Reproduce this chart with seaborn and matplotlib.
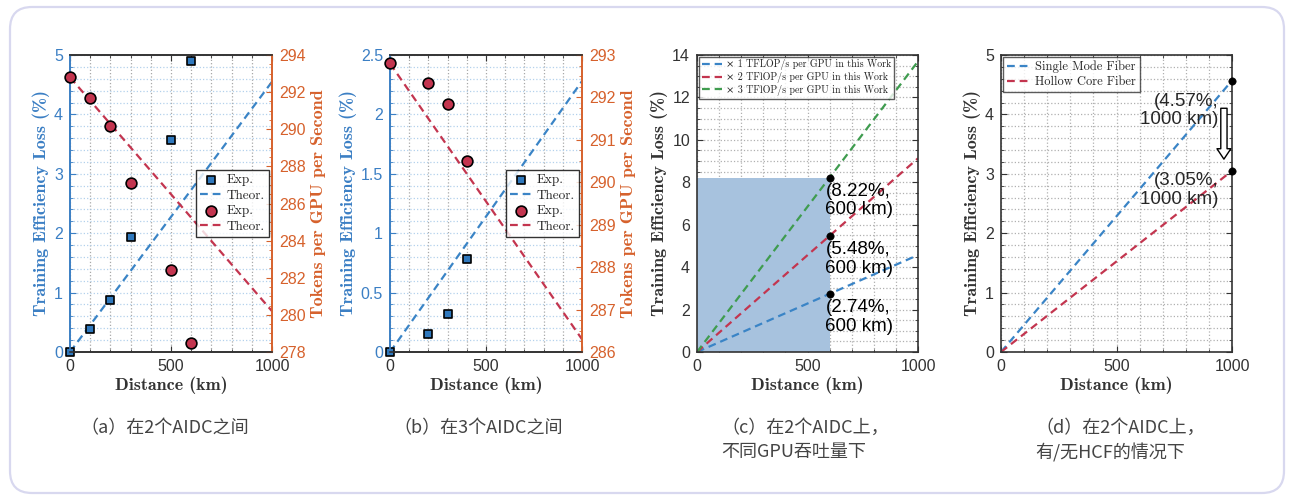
import matplotlib
matplotlib.use("Agg")
import matplotlib.pyplot as plt
import matplotlib.ticker as mticker
from matplotlib.patches import FancyBboxPatch
import pandas as pd
import seaborn as sns

sns.set_style("white")
plt.rcParams['font.family'] = ['Liberation Sans', 'DejaVu Sans']

# ---- data ----
theory_dist = [0, 1000]

# (a) two AIDCs
a_exp_dist = [0, 100, 200, 300, 500, 600]
a_exp_loss = [0.0, 0.38, 0.88, 1.94, 3.57, 4.90]
a_exp_tokens = [292.8, 291.7, 290.2, 287.1, 282.4, 278.5]
a_theo_loss = [0.0, 4.55]
a_theo_tokens = [292.8, 280.2]

# (b) three AIDCs
b_exp_dist = [0, 200, 300, 400]
b_exp_loss = [0.0, 0.15, 0.32, 0.78]
b_exp_tokens = [292.8, 292.35, 291.85, 290.5]
b_theo_loss = [0.0, 2.28]
b_theo_tokens = [292.8, 286.3]

# (c) GPU throughput scaling
c_labels = ['× 1 TFLOP/s per GPU in this Work',
            '× 2 TFlOP/s per GPU in this Work',
            '× 3 TFlOP/s per GPU in this Work']
c_loss_1000 = [4.57, 9.13, 13.70]
c_mark_dist = 600
c_mark_loss = [2.74, 5.48, 8.22]

# (d) fiber types
d_labels = ['Single Mode Fiber', 'Hollow Core Fiber']
d_loss_1000 = [4.57, 3.05]
d_mark_dist = 1000

captions = ['（a）在2个AIDC之间', '（b）在3个AIDC之间',
            '（c）在2个AIDC上，\n不同GPU吞吐量下', '（d）在2个AIDC上，\n有/无HCF的情况下']

BLUE = '#3a84c6'
SQ_BLUE = '#2f78bd'
RED = '#c3354f'
GREEN = '#3f9c4f'
ORANGE = '#d6612c'
AX_BLUE = '#3b7fc4'
DARK = '#333333'
DASH = (3.5, 2.2)

LABEL_FONT = dict(family='cmb10', size=13)
TICK_SIZE = 11.5

W, H = 1295, 499
fig = plt.figure(figsize=(W / 100, H / 100), dpi=100)

# rounded frame around everything
frame = FancyBboxPatch((0.1, 0.06), 12.74, 4.86, boxstyle="round,pad=0,rounding_size=0.22",
                       transform=fig.dpi_scale_trans, fc='white', ec='#d8d8ef', lw=1.6, zorder=-10)
fig.patches.append(frame)


def make_ax(left_px, right_px):
    top_px, bottom_px = 55, 352
    return fig.add_axes([left_px / W, (H - bottom_px) / H,
                         (right_px - left_px) / W, (bottom_px - top_px) / H])


def style_x(ax):
    ax.set_xlim(0, 1000)
    ax.xaxis.set_major_locator(mticker.MultipleLocator(500))
    ax.xaxis.set_minor_locator(mticker.MultipleLocator(100))
    ax.set_xlabel('Distance (km)', fontdict=LABEL_FONT, color=DARK, labelpad=2)
    ax.tick_params(axis='x', which='both', direction='in', top=True, bottom=True,
                   colors=DARK, labelsize=TICK_SIZE, pad=5)
    ax.tick_params(axis='x', which='major', length=4)
    ax.tick_params(axis='x', which='minor', length=2)


def dual_panel(ax, exp_dist, exp_loss, exp_tok, theo_loss, theo_tok,
               ylim, ymaj, ymin, y2lim, y2maj, y2min):
    ax.grid(which='both', axis='y', color='#b3d1ec', ls=':', lw=0.9)
    ax.grid(which='both', axis='x', color='#a8a8a8', ls=':', lw=0.9)
    sns.lineplot(x=theory_dist, y=theo_loss, ax=ax, color=BLUE, lw=1.6,
                 dashes=False, label='Theor.', zorder=2)
    ax.lines[-1].set_dashes(DASH)
    sns.scatterplot(x=exp_dist, y=exp_loss, ax=ax, marker='s', s=32, color=SQ_BLUE,
                    edgecolor='black', linewidth=1.2, label='Exp.', zorder=3, clip_on=False)
    ax.set_ylim(*ylim)
    ax.yaxis.set_major_locator(mticker.MultipleLocator(ymaj))
    ax.yaxis.set_minor_locator(mticker.MultipleLocator(ymin))
    ax.yaxis.set_major_formatter(mticker.FuncFormatter(lambda v, p: f'{v:g}'))
    ax.set_ylabel('Training Efficiency Loss (%)', fontdict=LABEL_FONT, color=AX_BLUE, labelpad=3)
    ax.tick_params(axis='y', which='both', direction='in', left=True, right=False,
                   colors=AX_BLUE, labelsize=TICK_SIZE, pad=5)
    ax.tick_params(axis='y', which='major', length=4)
    ax.tick_params(axis='y', which='minor', length=2)
    style_x(ax)

    ax2 = ax.twinx()
    sns.lineplot(x=theory_dist, y=theo_tok, ax=ax2, color=RED, lw=1.6,
                 dashes=False, label='Theor.', zorder=2)
    ax2.lines[-1].set_dashes(DASH)
    sns.scatterplot(x=exp_dist, y=exp_tok, ax=ax2, marker='o', s=60, color=RED,
                    edgecolor='black', linewidth=1.2, label='Exp.', zorder=3, clip_on=False)
    ax2.set_ylim(*y2lim)
    ax2.yaxis.set_major_locator(mticker.MultipleLocator(y2maj))
    ax2.yaxis.set_minor_locator(mticker.MultipleLocator(y2min))
    ax2.set_ylabel('Tokens per GPU per Second', fontdict=LABEL_FONT, color=ORANGE, labelpad=4)
    ax2.tick_params(axis='y', which='both', direction='in', colors=ORANGE,
                    labelsize=TICK_SIZE, pad=5)
    ax2.tick_params(axis='y', which='major', length=4)
    ax2.tick_params(axis='y', which='minor', length=2)

    for a in (ax, ax2):
        a.spines['left'].set_color(AX_BLUE)
        a.spines['right'].set_color(ORANGE)
        a.spines['top'].set_color(DARK)
        a.spines['bottom'].set_color(DARK)
        for s in a.spines.values():
            s.set_linewidth(1.2)

    h1, l1 = ax.get_legend_handles_labels()
    h2, l2 = ax2.get_legend_handles_labels()
    if ax.get_legend():
        ax.get_legend().remove()
    if ax2.get_legend():
        ax2.get_legend().remove()
    # order: Exp., Theor. (blue) then Exp., Theor. (red)
    handles = [h1[1], h1[0], h2[1], h2[0]]
    labels = [l1[1], l1[0], l2[1], l2[0]]
    leg = ax2.legend(handles, labels, loc='center right', prop=dict(family='cmr10', size=9.5),
                     frameon=True, fancybox=False, edgecolor='black', handlelength=1.6,
                     handletextpad=0.4, borderpad=0.3, labelspacing=0.25, borderaxespad=0.25)
    leg.get_frame().set_linewidth(1.0)
    return ax2


def single_panel(ax, ylim, ymaj, ymin):
    ax.grid(which='both', color='#b0b0b0', ls=':', lw=0.9)
    ax.set_ylim(*ylim)
    ax.yaxis.set_major_locator(mticker.MultipleLocator(ymaj))
    ax.yaxis.set_minor_locator(mticker.MultipleLocator(ymin))
    ax.set_ylabel('Training Efficiency Loss (%)', fontdict=LABEL_FONT, color=DARK, labelpad=3)
    ax.tick_params(axis='y', which='both', direction='in', left=True, right=True,
                   colors=DARK, labelsize=TICK_SIZE, pad=5)
    ax.tick_params(axis='y', which='major', length=4)
    ax.tick_params(axis='y', which='minor', length=2)
    style_x(ax)
    for s in ax.spines.values():
        s.set_color(DARK)
        s.set_linewidth(1.2)


# (a)
ax_a = make_ax(70, 272)
dual_panel(ax_a, a_exp_dist, a_exp_loss, a_exp_tokens, a_theo_loss, a_theo_tokens,
           (0, 5), 1, 0.2, (278, 294), 2, 0.5)

# (b)
ax_b = make_ax(390, 582)
dual_panel(ax_b, b_exp_dist, b_exp_loss, b_exp_tokens, b_theo_loss, b_theo_tokens,
           (0, 2.5), 0.5, 0.1, (286, 293), 1, 0.25)

# (c)
ax_c = make_ax(697, 918)
single_panel(ax_c, (0, 14), 2, 0.5)
ax_c.fill_between([0, c_mark_dist], 0, max(c_mark_loss), color='#a7c2de', lw=0, zorder=1.5)
c_df = pd.DataFrame({'dist': theory_dist * 3,
                     'loss': [v for end in c_loss_1000 for v in (0.0, end)],
                     'series': [lab for lab in c_labels for _ in range(2)]})
sns.lineplot(data=c_df, x='dist', y='loss', hue='series', palette=[BLUE, RED, GREEN],
             ax=ax_c, lw=1.6, zorder=2)
for ln in ax_c.lines:
    ln.set_dashes(DASH)
sns.scatterplot(x=[c_mark_dist] * 3, y=c_mark_loss, ax=ax_c, color='black', s=28,
                edgecolor='black', zorder=4, legend=False)
for v in c_mark_loss:
    ax_c.annotate(f'({v:.2f}%,\n{c_mark_dist} km)', xy=(c_mark_dist, v), xytext=(-3, -4),
                  textcoords='offset points', ha='left', va='top', fontsize=13.5,
                  family='Liberation Sans', color='black', linespacing=1.1, zorder=5)
hc, lc = ax_c.get_legend_handles_labels()
leg = ax_c.legend(hc, lc, loc='upper left', prop=dict(family=['cmr10', 'DejaVu Serif'], size=7.2),
                  frameon=True, fancybox=False, edgecolor='#333333', handlelength=2.0,
                  handletextpad=0.4, borderpad=0.3, labelspacing=0.15, borderaxespad=0.15)
leg.get_frame().set_linewidth(1.0)
ax_c.set_xlabel('Distance (km)', fontdict=LABEL_FONT, color=DARK, labelpad=2)

# (d)
ax_d = make_ax(1001, 1232)
single_panel(ax_d, (0, 5), 1, 0.2)
d_df = pd.DataFrame({'dist': theory_dist * 2,
                     'loss': [v for end in d_loss_1000 for v in (0.0, end)],
                     'series': [lab for lab in d_labels for _ in range(2)]})
sns.lineplot(data=d_df, x='dist', y='loss', hue='series', palette=[BLUE, RED],
             ax=ax_d, lw=1.6, zorder=2)
for ln in ax_d.lines:
    ln.set_dashes(DASH)
sns.scatterplot(x=[d_mark_dist] * 2, y=d_loss_1000, ax=ax_d, color='black', s=28,
                edgecolor='black', zorder=4, legend=False, clip_on=False)
ax_d.annotate(f'({d_loss_1000[0]:.2f}%,\n{d_mark_dist} km)', xy=(d_mark_dist, d_loss_1000[0]),
              xytext=(-10, -9), textcoords='offset points', ha='right', va='top',
              fontsize=13.5, family='Liberation Sans', linespacing=1.1, zorder=5)
ax_d.annotate(f'({d_loss_1000[1]:.2f}%,\n{d_mark_dist} km)', xy=(d_mark_dist, d_loss_1000[1]),
              xytext=(-10, -1), textcoords='offset points', ha='right', va='top',
              fontsize=13.5, family='Liberation Sans', linespacing=1.1, zorder=5)
ax_d.annotate('', xy=(965, 3.2), xytext=(965, 4.15),
              arrowprops=dict(arrowstyle='simple,head_width=1.0,head_length=0.75,tail_width=0.45',
                              fc='white', ec='black', lw=1.0, mutation_scale=10), zorder=5)
hd, ld = ax_d.get_legend_handles_labels()
leg = ax_d.legend(hd, ld, loc='upper left', prop=dict(family='cmr10', size=9),
                  frameon=True, fancybox=False, edgecolor='#333333', handlelength=2.0,
                  handletextpad=0.3, borderpad=0.3, labelspacing=0.2, borderaxespad=0.15)
leg.get_frame().set_linewidth(1.0)
ax_d.set_xlabel('Distance (km)', fontdict=LABEL_FONT, color=DARK, labelpad=2)

# captions (left aligned, as in the reference)
cap_x = [80, 393, 721, 1035]
for cx, text in zip(cap_x, captions):
    fig.text(cx / W, 1 - 419 / H, text, ha='left', va='top', multialignment='left',
             fontsize=13, color='#444444', linespacing=1.45,
             family=['Noto Sans CJK SC', 'DejaVu Sans'])

fig.savefig('out.png', dpi=100)
